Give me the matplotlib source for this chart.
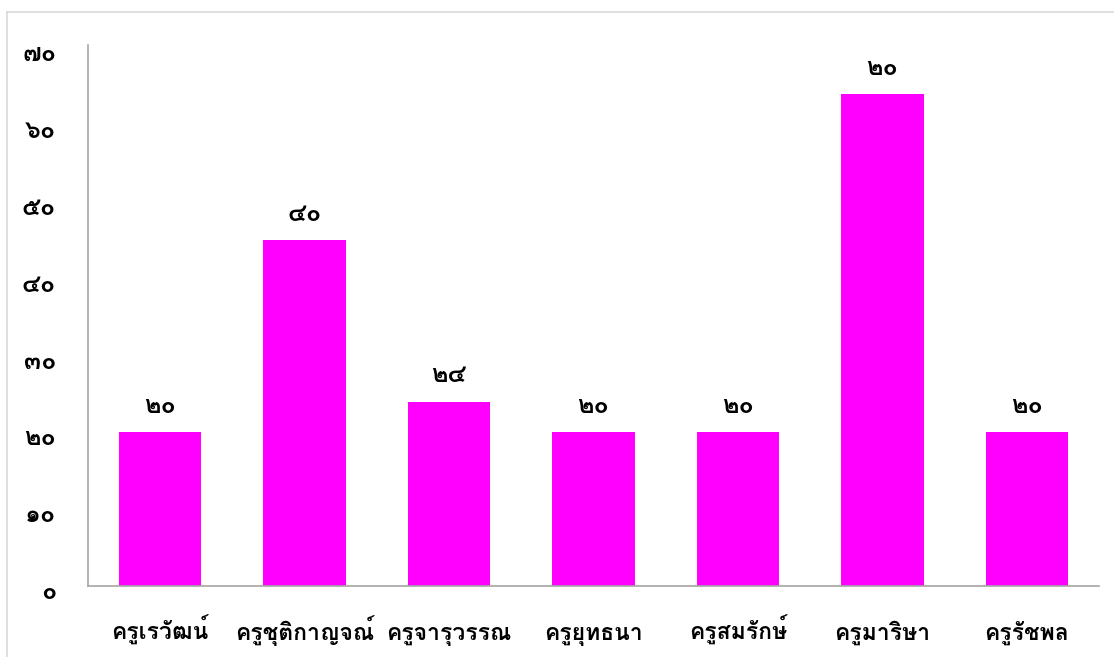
import matplotlib
matplotlib.use("Agg")
import matplotlib.pyplot as plt
from matplotlib import font_manager
from matplotlib.ft2font import FT2Font
from matplotlib.lines import Line2D
from matplotlib.transforms import ScaledTranslation

teachers = ["ครูเรวัฒน์", "ครูชุติกาญจณ์", "ครูจารุวรรณ", "ครูยุทธนา",
            "ครูสมรักษ์", "ครูมาริษา", "ครูรัชพล"]
heights = [20, 45, 24, 20, 20, 64, 20]
value_labels = ["๒๐", "๔๐", "๒๔", "๒๐", "๒๐", "๒๐", "๒๐"]
yticks = [0, 10, 20, 30, 40, 50, 60, 70]
ytick_labels = ["๐", "๑๐", "๒๐", "๓๐", "๔๐", "๕๐", "๖๐", "๗๐"]


def thai_font():
    # look for any installed font that actually has Thai glyphs, prefer bold
    found = []
    for f in font_manager.fontManager.ttflist:
        try:
            cmap = FT2Font(f.fname).get_charmap()
        except Exception:
            continue
        if ord("ค") in cmap and ord("๒") in cmap:
            w = f.weight
            if isinstance(w, str):
                w = font_manager.weight_dict.get(w, 400)
            found.append((abs(w - 700), f.style != "normal", f.fname))
    if not found:
        return None
    found.sort()
    return found[0][2]


path = thai_font()
if path:
    fp_tick = font_manager.FontProperties(fname=path, size=16.5)
    fp_num = font_manager.FontProperties(fname=path, size=18)
else:
    fp_tick = font_manager.FontProperties(family="DejaVu Sans", weight="bold", size=16.5)
    fp_num = font_manager.FontProperties(family="DejaVu Sans", weight="bold", size=18)

fig = plt.figure(figsize=(11.14, 6.57), dpi=100)
ax = fig.add_axes([88 / 1114, 71 / 657, 1011 / 1114, 541 / 657])

x = range(len(teachers))
bars = ax.bar(x, heights, width=0.57, color="#ff00ff")

for b, t in zip(bars, value_labels):
    ax.text(b.get_x() + b.get_width() / 2, b.get_height() + 3.4, t,
            ha="center", va="center", fontproperties=fp_num)

ax.set_xlim(-0.5, len(teachers) - 0.5)
ax.set_ylim(0, 70.4)
ax.set_xticks(list(x))
ax.set_xticklabels(teachers, fontproperties=fp_tick)
ax.set_yticks(yticks)
ax.set_yticklabels(ytick_labels, fontproperties=fp_num)
ax.tick_params(axis="x", length=0, pad=39)
ax.tick_params(axis="y", length=0, pad=23)

# put all the names on one baseline, whatever marks sit above them
for lab in ax.get_xticklabels():
    lab.set_va("baseline")
shift = ScaledTranslation(0, -3 / 72, fig.dpi_scale_trans)
for lab in ax.get_yticklabels():
    lab.set_transform(lab.get_transform() + shift)

for s in ["top", "right"]:
    ax.spines[s].set_visible(False)
for s in ["left", "bottom"]:
    ax.spines[s].set_color("#a6a6a6")
    ax.spines[s].set_linewidth(1.2)

# outer chart frame (only top and left edges show in the crop)
fig.add_artist(Line2D([7 / 1114, 7 / 1114], [0, 645 / 657], color="#d9d9d9", lw=1.2))
fig.add_artist(Line2D([7 / 1114, 1], [645 / 657, 645 / 657], color="#d9d9d9", lw=1.2))

fig.savefig("out.png", dpi=100)
